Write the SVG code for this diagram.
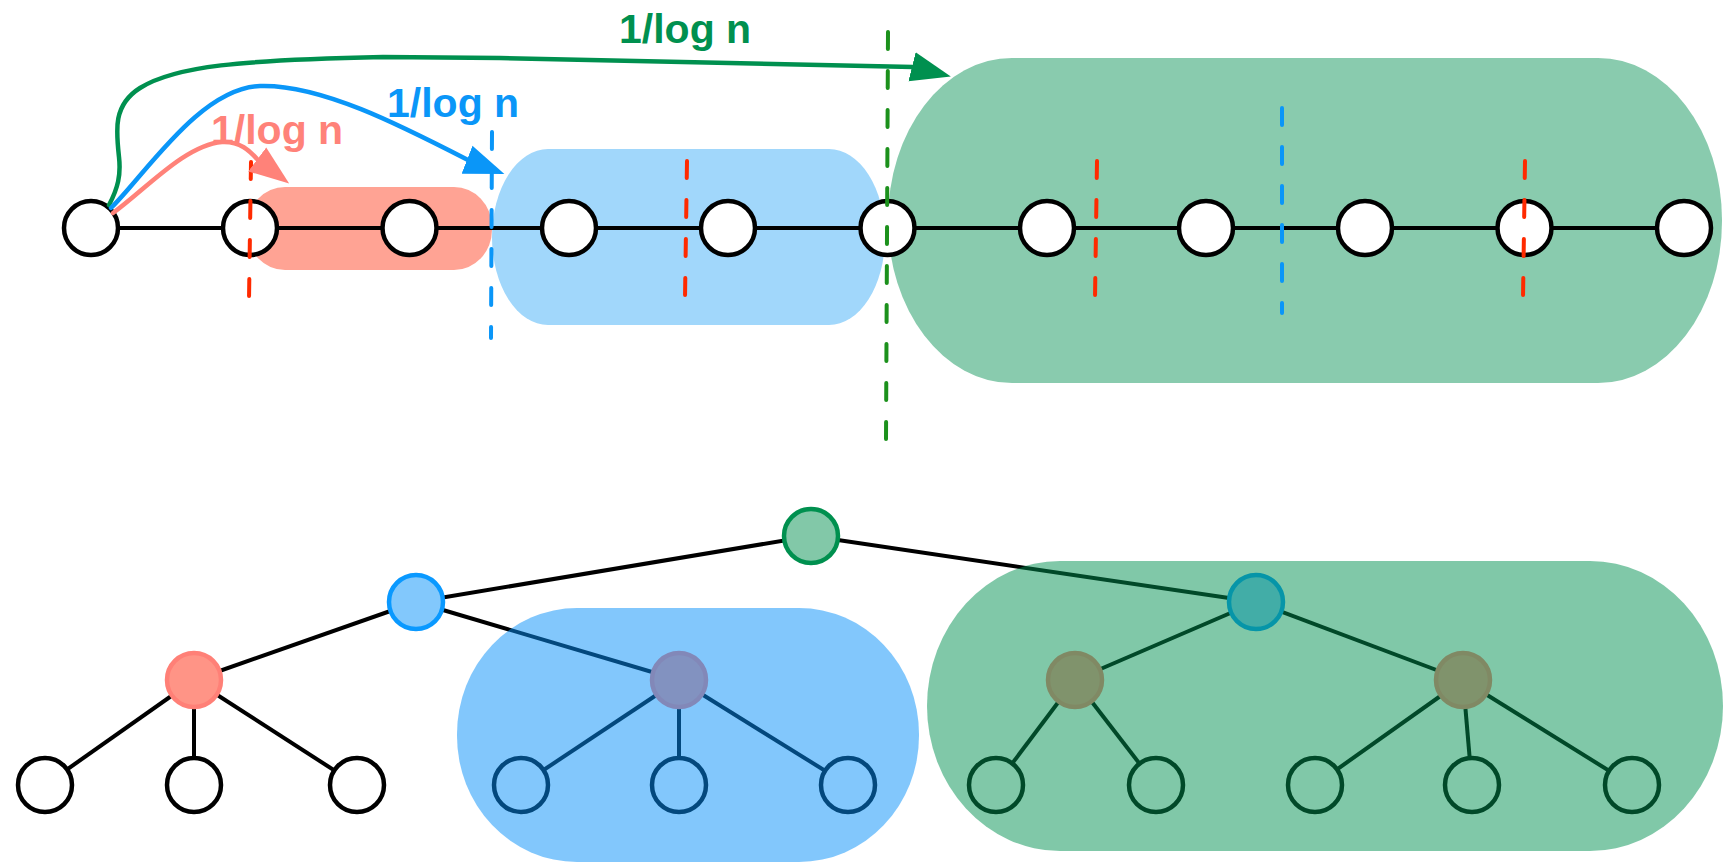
<svg xmlns="http://www.w3.org/2000/svg" width="1723" height="862" viewBox="0 0 1723 862">
<style>
.lbl{font-family:"Liberation Sans",Arial,sans-serif;font-weight:bold;font-size:41px}
.chain{fill:#fff;stroke:#000;stroke-width:4.5}
.edge{stroke:#000;stroke-width:4;fill:none}
.dash{fill:none;stroke-width:4;stroke-linecap:round;stroke-dasharray:17 22}
.arc{fill:none;stroke-width:4.5;stroke-linecap:round}
.leaf{fill:#fff;stroke:#000;stroke-width:4.5}
.rn{fill:#FF9486;stroke:#FF8077;stroke-width:4.5}
.bn{fill:#82C8FC;stroke:#0A99FF;stroke-width:4.5}
.gn{fill:#82C8A8;stroke:#00904F;stroke-width:4.5}
</style>
<defs>
<marker id="hg" markerUnits="userSpaceOnUse" markerWidth="41" markerHeight="31" viewBox="0 0 41 31" refX="1" refY="15.5" orient="14"><path d="M0,0.5 L40,15.5 L0,30.5 Z" fill="#00904F"/></marker>
<marker id="hb" markerUnits="userSpaceOnUse" markerWidth="41" markerHeight="31" viewBox="0 0 41 31" refX="1" refY="15.5" orient="21"><path d="M0,0.5 L40,15.5 L0,30.5 Z" fill="#0A96F8"/></marker>
<marker id="hr" markerUnits="userSpaceOnUse" markerWidth="41" markerHeight="31" viewBox="0 0 41 31" refX="1" refY="15.5" orient="37"><path d="M0,0.5 L40,15.5 L0,30.5 Z" fill="#FF8279"/></marker>
</defs>

<!-- top regions -->
<g id="top-regions">
<rect id="region-red-top" x="247" y="187" width="245" height="83" rx="38" ry="40" fill="#FFA394"/>
<rect id="region-blue-top" x="492" y="149" width="393" height="176" rx="56" ry="88" fill="#A1D7FB"/>
<rect id="region-green-top" x="888" y="58" width="834" height="325" rx="124" ry="162" fill="#89CBAE"/>
</g>

<!-- chain connectors -->
<g id="chain-connectors">
<line class="edge" x1="91" y1="228" x2="1684" y2="228"/>
</g>

<!-- chain nodes -->
<g id="c1"><circle class="chain" cx="91" cy="228" r="27"/></g>
<g id="c2"><circle class="chain" cx="250" cy="228" r="27"/></g>
<g id="c3"><circle class="chain" cx="409.5" cy="228" r="27"/></g>
<g id="c4"><circle class="chain" cx="569" cy="228" r="27"/></g>
<g id="c5"><circle class="chain" cx="728" cy="228" r="27"/></g>
<g id="c6"><circle class="chain" cx="887.5" cy="228" r="27"/></g>
<g id="c7"><circle class="chain" cx="1047" cy="228" r="27"/></g>
<g id="c8"><circle class="chain" cx="1206" cy="228" r="27"/></g>
<g id="c9"><circle class="chain" cx="1365" cy="228" r="27"/></g>
<g id="c10"><circle class="chain" cx="1524.5" cy="228" r="27"/></g>
<g id="c11"><circle class="chain" cx="1684" cy="228" r="27"/></g>

<!-- dashed separators -->
<g id="separators">
<line class="dash" stroke="#FF2A00" x1="251" y1="162" x2="249" y2="300"/>
<line class="dash" stroke="#FF2A00" x1="687" y1="161" x2="685" y2="298"/>
<line class="dash" stroke="#FF2A00" x1="1097" y1="161" x2="1095" y2="298"/>
<line class="dash" stroke="#FF2A00" x1="1525" y1="161" x2="1523" y2="298"/>
<line class="dash" stroke="#0A96F8" x1="492" y1="132" x2="491" y2="338"/>
<line class="dash" stroke="#0A96F8" x1="1282" y1="108" x2="1282" y2="313"/>
<line class="dash" stroke="#1C911C" x1="888" y1="32" x2="886" y2="441"/>
</g>

<!-- arrows -->
<g id="arrows">
<path class="arc" stroke="#00904F" d="M109,205 C118,188 121,175 119,157 C116,130 113,105 140,88 C175,66 240,60 383,57 L500,58 L913,67" marker-end="url(#hg)"/>
<path class="arc" stroke="#0A96F8" d="M111,208 C145,175 200,88 260,86 C320,84 400,125 468,160" marker-end="url(#hb)"/>
<path class="arc" stroke="#FF8279" d="M113,213 C145,190 185,145 222,142 C240,141 250,151 258,160" marker-end="url(#hr)"/>
</g>

<g id="labels">
<text class="lbl" x="619" y="43" fill="#00904F">1/log n</text>
<text class="lbl" x="387" y="117" fill="#0A96F8">1/log n</text>
<text class="lbl" x="211" y="144" fill="#FF8279">1/log n</text>
</g>

<!-- tree connectors -->
<g id="tree-connectors" class="edge">
<line x1="811" y1="536" x2="416" y2="602"/>
<line x1="811" y1="536" x2="1256" y2="602"/>
<line x1="416" y1="602" x2="194" y2="680"/>
<line x1="416" y1="602" x2="679" y2="680"/>
<line x1="194" y1="680" x2="45" y2="785"/>
<line x1="194" y1="680" x2="194" y2="785"/>
<line x1="194" y1="680" x2="357" y2="785"/>
<line x1="679" y1="680" x2="521" y2="785"/>
<line x1="679" y1="680" x2="679" y2="785"/>
<line x1="679" y1="680" x2="848" y2="785"/>
<line x1="1256" y1="602" x2="1075" y2="680"/>
<line x1="1256" y1="602" x2="1463" y2="680"/>
<line x1="1075" y1="680" x2="996" y2="785"/>
<line x1="1075" y1="680" x2="1156" y2="785"/>
<line x1="1463" y1="680" x2="1315" y2="785"/>
<line x1="1463" y1="680" x2="1472" y2="785"/>
<line x1="1463" y1="680" x2="1632" y2="785"/>
</g>

<!-- tree nodes -->
<g id="t-root"><circle class="gn" cx="811" cy="536" r="27"/></g>
<g id="t-blue"><circle class="bn" cx="416" cy="602" r="27"/></g>
<g id="t-teal"><circle class="bn" cx="1256" cy="602" r="27"/></g>
<g id="t-red"><circle class="rn" cx="194" cy="680" r="27"/></g>
<g id="t-purple"><circle class="rn" cx="679" cy="680" r="27"/></g>
<g id="t-olive1"><circle class="rn" cx="1075" cy="680" r="27"/></g>
<g id="t-olive2"><circle class="rn" cx="1463" cy="680" r="27"/></g>
<g id="l1"><circle class="leaf" cx="45" cy="785" r="27"/></g>
<g id="l2"><circle class="leaf" cx="194" cy="785" r="27"/></g>
<g id="l3"><circle class="leaf" cx="357" cy="785" r="27"/></g>
<g id="l4"><circle class="leaf" cx="521" cy="785" r="27"/></g>
<g id="l5"><circle class="leaf" cx="679" cy="785" r="27"/></g>
<g id="l6"><circle class="leaf" cx="848" cy="785" r="27"/></g>
<g id="l7"><circle class="leaf" cx="996" cy="785" r="27"/></g>
<g id="l8"><circle class="leaf" cx="1156" cy="785" r="27"/></g>
<g id="l9"><circle class="leaf" cx="1315" cy="785" r="27"/></g>
<g id="l10"><circle class="leaf" cx="1472" cy="785" r="27"/></g>
<g id="l11"><circle class="leaf" cx="1632" cy="785" r="27"/></g>

<!-- translucent subtree regions -->
<g id="bottom-regions">
<rect id="region-blue-bottom" x="457" y="608" width="462" height="254" rx="120" ry="126" fill="#0590F9" fill-opacity="0.5"/>
<rect id="region-green-bottom" x="927" y="561" width="796" height="290" rx="133" ry="145" fill="#019151" fill-opacity="0.5"/>
</g>
</svg>
